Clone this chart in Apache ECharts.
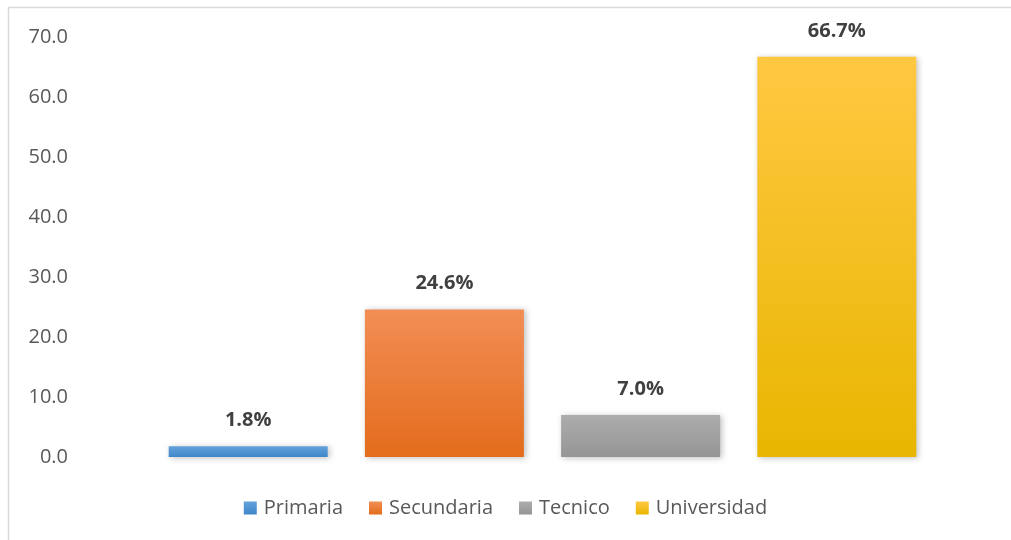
<!DOCTYPE html>
<html>
<head>
<meta charset="utf-8">
<script src="https://cdn.jsdelivr.net/npm/echarts@6/dist/echarts.min.js"></script>
<style>
  html, body { margin: 0; padding: 0; background: #fff; }
  #chart { width: 1011px; height: 540px; }
</style>
</head>
<body>
<div id="chart"></div>
<script>
// datos
const categories = ['Nivel']
const seriesNames = ['Primaria', 'Secundaria', 'Tecnico', 'Universidad']
const seriesValues = [1.8, 24.6, 7.0, 66.7]
const yTicks = { min: 0, max: 70, interval: 10 }

const colors = [
  ['#63A2DB', '#3F86CB'],
  ['#F28E55', '#E36C1C'],
  ['#ADADAD', '#959595'],
  ['#FFC842', '#E8B600'],
]

const chart = echarts.init(document.getElementById('chart'))

const series = seriesNames.map((name, i) => ({
  name,
  type: 'bar',
  data: [seriesValues[i]],
  barWidth: 159,
  barGap: '23.4%',
  itemStyle: {
    color: new echarts.graphic.LinearGradient(0, 0, 0, 1, [
      { offset: 0, color: colors[i][0] },
      { offset: 1, color: colors[i][1] },
    ]),
    shadowColor: 'rgba(0,0,0,0.25)',
    shadowBlur: 6,
    shadowOffsetX: 2,
    shadowOffsetY: 1,
  },
  label: {
    show: true,
    position: 'top',
    distance: 16,
    formatter: (p) => p.value.toFixed(1) + '%',
    fontFamily: 'Open Sans',
    fontWeight: 'bold',
    fontSize: 20,
    color: '#404040',
  },
}))

chart.setOption({
  animation: false,
  color: colors.map((c) => c[1]),
  graphic: [
    {
      type: 'rect',
      shape: { x: 8.5, y: 7.5, width: 1100, height: 600 },
      style: { fill: 'none', stroke: '#D9D9D9', lineWidth: 1.5 },
      silent: true,
    },
  ],
  grid: { left: 82, right: 8, top: 37, bottom: 83 },
  legend: {
    bottom: 17,
    left: 'center',
    itemWidth: 13,
    itemHeight: 13,
    itemGap: 26,
    icon: 'rect',
    textStyle: { fontFamily: 'Open Sans', fontSize: 20, color: '#595959', padding: [0, 0, 0, 2] },
    data: seriesNames.map((name, i) => ({
      name,
      itemStyle: {
        color: new echarts.graphic.LinearGradient(0, 0, 0, 1, [
          { offset: 0, color: colors[i][0] },
          { offset: 1, color: colors[i][1] },
        ]),
      },
    })),
  },
  xAxis: {
    type: 'category',
    data: categories,
    axisLine: { show: false },
    axisTick: { show: false },
    axisLabel: { show: false },
  },
  yAxis: {
    type: 'value',
    min: yTicks.min,
    max: yTicks.max,
    interval: yTicks.interval,
    axisLine: { show: false },
    axisTick: { show: false },
    splitLine: { show: false },
    axisLabel: {
      formatter: (v) => v.toFixed(1),
      fontFamily: 'Open Sans',
      fontSize: 20,
      color: '#595959',
      margin: 14,
      align: 'right',
    },
  },
  series,
})
</script>
</body>
</html>
